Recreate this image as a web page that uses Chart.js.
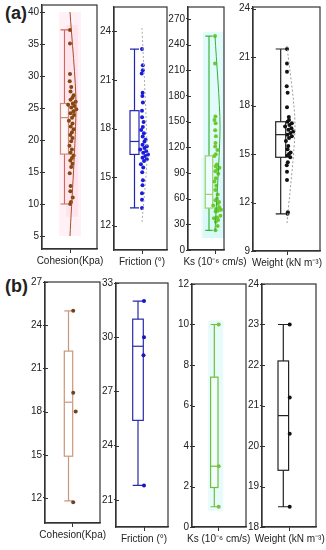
<!DOCTYPE html>
<html>
<head>
<meta charset="utf-8">
<script src="https://cdn.jsdelivr.net/npm/chart.js@4.4.1/dist/chart.umd.min.js"></script>
<style>
  body { margin: 0; background: #fff; }
  #wrap { position: relative; width: 326px; height: 550px; overflow: hidden; }
  #wrap canvas { position: absolute; }
  .tag { position: absolute; font: bold 18px "Liberation Sans", Arial, sans-serif; color: #222; }
</style>
</head>
<body>
<div id="wrap">
  <div class="tag" style="left:5px; top:3px;">(a)</div>
  <div class="tag" style="left:5px; top:276px;">(b)</div>
</div>
<script>
// x labels
const labels = ["Cohesion(Kpa)", "Friction (°)", "Ks (10⁻⁶ cm/s)", "Weight (kN m⁻³)"];

// (a) measured samples
const cohesionA = [37.2, 35.1, 30.3, 29.2, 28.3, 27.6, 27.0, 26.6, 26.3, 26.0, 25.7, 25.5, 25.3, 25.1, 24.8, 24.5, 24.2, 23.9, 23.5, 23.0, 22.6, 22.1, 21.7, 21.2, 20.8, 20.3, 19.8, 19.1, 18.5, 18.0, 17.6, 17.2, 16.8, 16.3, 15.8, 14.8, 12.8, 12.0, 11.0, 10.3, 10.0];
const frictionA = [22.9, 21.9, 21.6, 21.4, 20.2, 20.0, 19.6, 19.1, 18.7, 18.4, 18.1, 17.9, 17.7, 17.5, 17.3, 17.2, 17.0, 16.9, 16.8, 16.7, 16.6, 16.5, 16.4, 16.3, 16.2, 16.1, 16.0, 15.8, 15.6, 15.3, 14.8, 14.5, 14.0, 13.6, 13.1];
const ksA = [250, 218, 156, 152, 148, 140, 133, 125, 121, 117, 112, 110, 100, 98, 96, 94, 92, 89, 84, 80, 75, 70, 65, 60, 58, 56, 54, 52, 50, 48, 47, 46, 45, 40, 38, 37, 35, 33, 28, 23];
const weightA = [21.5, 20.6, 20.1, 19.2, 18.8, 17.9, 17.3, 17.1, 17.0, 16.9, 16.8, 16.7, 16.6, 16.5, 16.4, 16.3, 16.2, 16.1, 16.0, 15.8, 15.5, 15.3, 15.1, 15.0, 14.9, 14.8, 14.5, 14.3, 13.9, 13.4, 11.4, 11.3];

// (b) measured samples
const cohesionB = [25.0, 19.3, 18.0, 11.7];
const frictionB = [32.0, 30.0, 29.0, 21.8];
const ksB = [10, 3, 1];
const weightB = [23.0, 21.2, 20.3, 18.5];

// box stats: [min, q1, median, q3, max]
const boxCohesionA = [10.0, 17.8, 23.5, 25.7, 37.2];
const boxFrictionA = [13.1, 16.4, 17.2, 19.1, 22.9];
const boxKsA = [23, 49, 65, 110, 250];
const boxWeightA = [11.3, 14.8, 16.2, 17.0, 21.5];
const boxCohesionB = [11.8, 14.9, 18.65, 22.2, 25.0];
const boxFrictionB = [21.8, 25.4, 29.5, 31.0, 32.0];
const boxKsB = [1, 1.95, 3, 7.4, 10];
const boxWeightB = [18.5, 19.4, 20.75, 22.1, 23.0];

// half-violin outline: [low, peak, high]
const violinCohesionA = [5, 25.5, 40];
const violinFrictionA = [12.2, 16.4, 24.2];
const violinKsA = [22, 145, 250];
const violinWeightA = [10.7, 16.8, 21.7];

// y tick labels
const ticksCohesionA = [5, 10, 15, 20, 25, 30, 35, 40];
const ticksFrictionA = [12, 15, 18, 21, 24];
const ticksKsA = [0, 30, 60, 90, 120, 150, 180, 210, 240, 270];
const ticksWeightA = [9, 12, 15, 18, 21, 24];
const ticksCohesionB = [12, 15, 18, 21, 24, 27];
const ticksFrictionB = [21, 24, 27, 30, 33];
const ticksKsB = [0, 2, 4, 6, 8, 10, 12];
const ticksWeightB = [18, 19, 20, 21, 22, 23, 24];

const FONT = '"Liberation Sans", Arial, sans-serif';
const YW = 40, XH = 28, PT = 8, PR = 40;

// spread points sideways where they are dense
const pattern = [0.1, 0.9, 0.45, -0.3, 0.7, 0.2, 1.0, 0.55];
function jitter(vals, span, amp) {
  return vals.map((v, i) => {
    const n = vals.filter(u => Math.abs(u - v) <= span).length;
    const a = Math.min(amp, (n - 1) * 0.9);
    return a * pattern[i % pattern.length];
  });
}

const panels = [
  { frame: [42, 5, 97, 249], tick: 70, yr: [2.97, 41.1], ticks: ticksCohesionA, label: labels[0],
    pts: cohesionA, box: boxCohesionA, span: 1.0, amp: 7, boxC: -5.5, half: 4,
    ptColor: "#85460f", boxColor: "#cf8a7a", whiskColor: "#d0655a",
    violin: violinCohesionA, vw: 6, vColor: "#a4502e", vDash: [],
    bands: [{ x0: -11, x1: 11, y0: 5, y1: 40, color: "rgba(255,215,230,0.35)" },
            { x0: -4, x1: 8, y0: 8, y1: 38, color: "rgba(255,200,220,0.3)" }] },
  { frame: [114, 7, 167, 250], tick: 142, yr: [10.5, 25.5], ticks: ticksFrictionA, label: labels[1],
    pts: frictionA, box: boxFrictionA, span: 0.4, amp: 6, boxC: -7.5, half: 4.5,
    ptColor: "#1b1be0", boxColor: "#2424b0", whiskColor: "#2424b0",
    violin: violinFrictionA, vw: 5, vColor: "#aaaaaa", vDash: [2, 2], bands: [] },
  { frame: [188, 7, 224, 250], tick: 215, yr: [0, 284], ticks: ticksKsA, label: labels[2],
    pts: ksA, box: boxKsA, span: 7, amp: 6, boxC: -6, half: 3.7,
    ptColor: "#6bcb2e", boxColor: "#9fd06a", whiskColor: "#3fb43a",
    violin: violinKsA, vw: 5, vColor: "#38b038", vDash: [],
    bands: [{ x0: -12, x1: 9, y0: 14, y1: 255, color: "rgba(200,246,246,0.55)" },
            { x0: -14, x1: 9, y0: 14, y1: 108, color: "rgba(200,246,246,0.3)" }] },
  { frame: [253, 7, 320, 251], tick: 287, yr: [9, 24.1], ticks: ticksWeightA, label: labels[3],
    pts: weightA, box: boxWeightA, span: 0.4, amp: 7, boxC: -6.3, half: 5,
    ptColor: "#111", boxColor: "#222", whiskColor: "#222",
    violin: violinWeightA, vw: 8, vColor: "#999", vDash: [2, 2], bands: [] },
  { frame: [45, 282, 100, 523], tick: 72.7, yr: [10.26, 27], ticks: ticksCohesionB, label: labels[0],
    pts: cohesionB, offsets: [0.5, 0.5, 3, 0.5], box: boxCohesionB, boxC: -4.2, half: 4.2,
    ptColor: "#6b4423", boxColor: "#c9967c", whiskColor: "#c9967c", bands: [] },
  { frame: [116, 283, 168, 527], tick: 144, yr: [19.5, 33], ticks: ticksFrictionB, label: labels[1],
    pts: frictionB, offsets: [0, 0, -0.5, 0], box: boxFrictionB, boxC: -6, half: 5.3,
    ptColor: "#1414d0", boxColor: "#2b2ba6", whiskColor: "#2b2ba6", bands: [] },
  { frame: [192, 284, 246, 527], tick: 218.7, yr: [0, 12], ticks: ticksKsB, label: labels[2],
    pts: ksB, offsets: [0, 0, 0], box: boxKsB, boxC: -4.4, half: 3.7,
    ptColor: "#78c23e", boxColor: "#6fbf3c", whiskColor: "#6fbf3c",
    bands: [{ x0: -10.5, x1: 4.5, y0: 0.8, y1: 10.2, color: "rgba(210,248,248,0.5)" }] },
  { frame: [262, 284, 316, 527], tick: 289.7, yr: [18, 24], ticks: ticksWeightB, label: labels[3],
    pts: weightB, offsets: [0, 0, 0, 0], box: boxWeightB, boxC: -6.4, half: 5.3,
    ptColor: "#111", boxColor: "#222", whiskColor: "#222", bands: [] }
];

const boxPlot = {
  id: "boxPlot",
  beforeDatasetsDraw(chart, args, o) {
    const { ctx } = chart;
    const x = chart.scales.x, y = chart.scales.y;
    ctx.save();
    (o.bands || []).forEach(b => {
      const l = x.getPixelForValue(b.x0), r = x.getPixelForValue(b.x1);
      const t = y.getPixelForValue(b.y1), btm = y.getPixelForValue(b.y0);
      ctx.fillStyle = b.color;
      ctx.fillRect(l, t, r - l, btm - t);
    });
    const [mn, q1, md, q3, mx] = o.stats;
    const cx = x.getPixelForValue(o.center);
    const l = x.getPixelForValue(o.center - o.half), r = x.getPixelForValue(o.center + o.half);
    const py = v => y.getPixelForValue(v);
    ctx.lineWidth = 1.2;
    // whiskers
    ctx.strokeStyle = o.whiskColor;
    ctx.beginPath();
    ctx.moveTo(cx, py(q3)); ctx.lineTo(cx, py(mx));
    ctx.moveTo(cx, py(q1)); ctx.lineTo(cx, py(mn));
    ctx.moveTo(l, py(mx)); ctx.lineTo(r, py(mx));
    ctx.moveTo(l, py(mn)); ctx.lineTo(r, py(mn));
    ctx.stroke();
    // box
    ctx.fillStyle = "rgba(255,255,255,0.55)";
    ctx.fillRect(l, py(q3), r - l, py(q1) - py(q3));
    ctx.strokeStyle = o.boxColor;
    ctx.strokeRect(l, py(q3), r - l, py(q1) - py(q3));
    ctx.beginPath();
    ctx.moveTo(l, py(md)); ctx.lineTo(r, py(md));
    ctx.stroke();
    ctx.restore();
  },
  afterDraw(chart) {
    const { ctx, chartArea: a } = chart;
    const y = chart.scales.y;
    ctx.save();
    ctx.strokeStyle = "#333";
    ctx.lineWidth = 1.2;
    ctx.strokeRect(a.left, a.top, a.right - a.left, a.bottom - a.top);
    // inner part of the y ticks
    ctx.beginPath();
    y.ticks.forEach(t => {
      const yy = Math.round(y.getPixelForValue(t.value)) + 0.5;
      ctx.moveTo(a.left, yy); ctx.lineTo(a.left + 3, yy);
    });
    ctx.lineWidth = 1;
    ctx.stroke();
    ctx.restore();
  }
};

const wrap = document.getElementById("wrap");

panels.forEach(p => {
  const [fl, ft, fr, fb] = p.frame;
  const cv = document.createElement("canvas");
  const w = fr - fl + YW + PR, h = fb - ft + PT + XH;
  cv.width = w; cv.height = h;
  cv.style.left = (fl - YW) + "px";
  cv.style.top = (ft - PT) + "px";
  cv.style.width = w + "px"; cv.style.height = h + "px";
  wrap.appendChild(cv);

  const xs = p.offsets || jitter(p.pts, p.span, p.amp);
  const datasets = [];
  if (p.violin) {
    const [lo, pk, hi] = p.violin;
    datasets.push({
      type: "scatter", showLine: true, pointRadius: 0, borderWidth: 1,
      borderColor: p.vColor, borderDash: p.vDash, tension: 0.25,
      data: [{ x: 0, y: hi }, { x: p.vw, y: pk }, { x: 0, y: lo }]
    });
  }
  datasets.push({
    type: "scatter", pointRadius: 2, borderWidth: 0,
    backgroundColor: p.ptColor, pointBorderColor: p.ptColor,
    data: p.pts.map((v, i) => ({ x: xs[i], y: v }))
  });

  new Chart(cv.getContext("2d"), {
    type: "scatter",
    data: { datasets: datasets },
    options: {
      responsive: false,
      animation: false,
      events: [],
      layout: { padding: { top: PT, right: PR, left: 0, bottom: 0 } },
      plugins: {
        legend: { display: false },
        tooltip: { enabled: false },
        boxPlot: {
          stats: p.box, center: p.boxC, half: p.half,
          boxColor: p.boxColor, whiskColor: p.whiskColor, bands: p.bands
        }
      },
      scales: {
        x: {
          type: "linear",
          min: fl - p.tick, max: fr - p.tick,
          afterBuildTicks: s => { s.ticks = [{ value: 0 }]; },
          afterFit: s => { s.height = XH; s.paddingLeft = 0; s.paddingRight = 0; },
          ticks: {
            callback: () => p.label, color: "#222", padding: 2,
            maxRotation: 0, autoSkip: false, font: { family: FONT, size: 10 }
          },
          grid: { drawOnChartArea: false, drawTicks: true, tickLength: 4, color: "#333" },
          border: { display: true, color: "#333", width: 1.2 }
        },
        y: {
          type: "linear",
          min: p.yr[0], max: p.yr[1],
          afterBuildTicks: s => { s.ticks = p.ticks.map(v => ({ value: v })); },
          afterFit: s => { s.width = YW; s.paddingTop = 0; s.paddingBottom = 0; },
          ticks: { color: "#222", padding: 1, font: { family: FONT, size: 10 } },
          grid: { drawOnChartArea: false, drawTicks: true, tickLength: 2, color: "#333" },
          border: { display: true, color: "#333", width: 1.2 }
        }
      }
    },
    plugins: [boxPlot]
  });
});
</script>
</body>
</html>
